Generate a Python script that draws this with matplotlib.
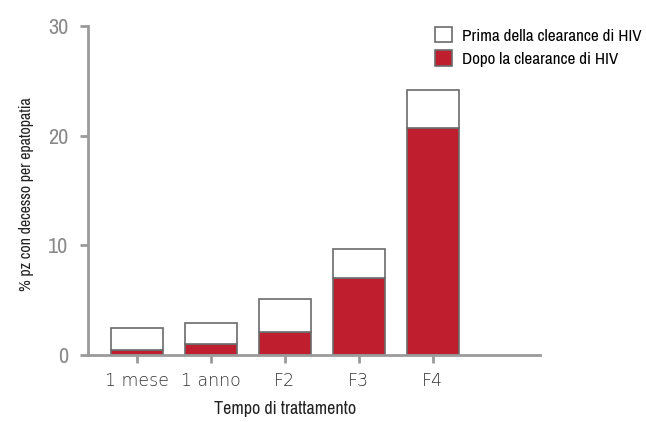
import os
import matplotlib
matplotlib.use("Agg")
import matplotlib.pyplot as plt
from matplotlib import font_manager
import numpy as np

# Hepatic-death percentage by treatment time, split by HIV clearance
categories = ["1 mese", "1 anno", "F2", "F3", "F4"]
dopo = [0.45, 1.0, 2.1, 7.0, 20.75]   # after HIV clearance
totale = [2.45, 2.9, 5.1, 9.7, 24.15]  # stacked total
prima = [t - d for t, d in zip(totale, dopo)]

red = "#BE1E2D"
grey = "#9a9a9a"
edge = "#6b6b6b"


def find_narrow_font():
    """Return the path of a condensed sans font, or None."""
    found = []
    for f in font_manager.fontManager.ttflist:
        base = os.path.basename(f.fname).lower()
        narrow = ("condensed" in base or "narrow" in base
                  or "cond" in f.name.lower() or "narrow" in f.name.lower()
                  or f.stretch in ("condensed", "semi-condensed",
                                   "extra-condensed"))
        if not narrow or f.style != "normal" or "extra" in base \
                or "ultra" in base:
            continue
        found.append((abs(f.weight - 400 if isinstance(f.weight, int) else 0),
                      "semi" in base, base, f.fname))
    if not found:
        return None
    found.sort()
    return found[0][3]


narrow_path = find_narrow_font()


def fp(size):
    if narrow_path:
        return font_manager.FontProperties(fname=narrow_path, size=size)
    return font_manager.FontProperties(family="DejaVu Sans", size=size * 0.8)


fig = plt.figure(figsize=(6.46, 4.22), dpi=100)
ax = fig.add_axes([0.136, 0.159, 0.70, 0.779])

x = np.arange(len(categories))
ax.bar(x, dopo, width=0.7, color=red, edgecolor=edge, linewidth=1.2,
       label="Dopo la clearance di HIV", zorder=2)
ax.bar(x, prima, width=0.7, bottom=dopo, color="white", edgecolor=edge,
       linewidth=1.2, label="Prima della clearance di HIV", zorder=2)

ax.set_xlim(-0.66, 5.45)
ax.set_ylim(0, 30)
ax.set_yticks([0, 10, 20, 30])
ax.set_xticks(x)
ax.set_xticklabels(categories, fontname="DejaVu Sans", fontsize=12.5,
                   color="#333333", fontweight="light")
for lab in ax.get_yticklabels():
    lab.set_fontproperties(fp(16))
    lab.set_color("#8a8a8a")

for side in ["top", "right"]:
    ax.spines[side].set_visible(False)
for side in ["left", "bottom"]:
    ax.spines[side].set_color(grey)
    ax.spines[side].set_linewidth(2)
ax.tick_params(axis="both", color=grey, width=2, length=6, direction="out")
ax.tick_params(axis="x", pad=6)
ax.tick_params(axis="y", pad=8)

ax.set_xlabel("Tempo di trattamento", fontproperties=fp(13),
              color="#222222")
ax.xaxis.set_label_coords((2 + 0.66) / 6.11, -0.14)
ax.set_ylabel("% pz con decesso per epatopatia", fontproperties=fp(11.5),
              color="#222222")
ax.yaxis.set_label_coords(-0.12, 0.49)

handles, labels = ax.get_legend_handles_labels()
leg = fig.legend(handles[::-1], labels[::-1], loc="upper left",
                 bbox_to_anchor=(0.673, 0.936), frameon=False,
                 borderpad=0, borderaxespad=0,
                 prop=fp(12.3), handlelength=1.0,
                 handleheight=1.0, handletextpad=0.6, labelspacing=0.4)
for h in leg.legend_handles:
    h.set_edgecolor(edge)

fig.savefig("out.png", dpi=100)
